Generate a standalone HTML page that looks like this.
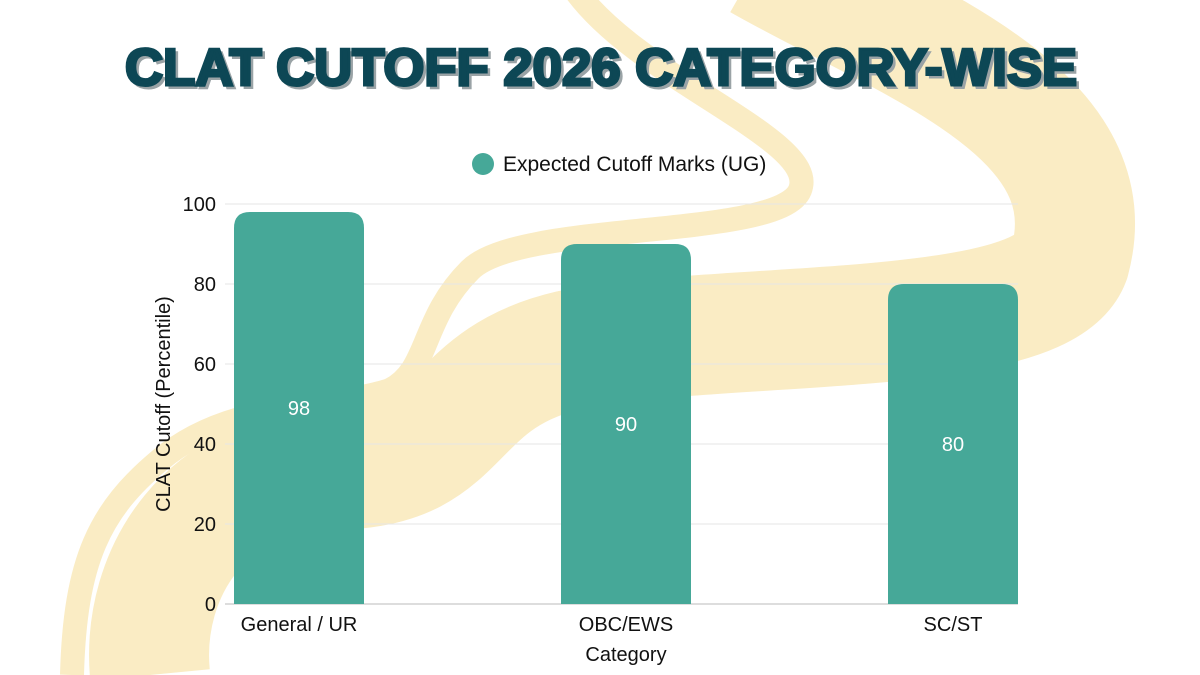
<!DOCTYPE html>
<html><head><meta charset="utf-8"><style>
html,body{margin:0;padding:0;background:#fff;overflow:hidden;width:1200px;height:675px;}
svg{display:block;font-family:"Liberation Sans",sans-serif;overflow:hidden;}
</style></head><body>
<svg width="1200" height="675" viewBox="0 0 1200 675">
<defs><clipPath id="frame"><rect x="0" y="0" width="1200" height="675"/></clipPath></defs>
<g fill="none" stroke="#faecc4" stroke-linecap="butt" clip-path="url(#frame)">
 <path d="M 760 -40 C 900 40, 1110 110, 1070 260 C 1040 340, 720 320, 570 350 C 440 380, 470 470, 330 470 C 210 470, 140 570, 150 675" stroke-width="120"/>
 <path d="M 575 -10 C 640 80, 820 140, 800 190 C 780 240, 520 220, 470 270 C 420 320, 430 370, 390 390 C 330 410, 230 400, 160 460 C 100 510, 75 560, 72 675" stroke-width="24"/>
</g>
<g>
 <text x="604" y="88" text-anchor="middle" font-size="52" font-weight="bold" fill="#9aa3a6" textLength="952" lengthAdjust="spacingAndGlyphs" stroke="#9aa3a6" stroke-width="2">CLAT CUTOFF 2026 CATEGORY-WISE</text>
 <text x="601" y="85" text-anchor="middle" font-size="52" font-weight="bold" fill="#0d4755" textLength="952" lengthAdjust="spacingAndGlyphs" stroke="#0d4755" stroke-width="3">CLAT CUTOFF 2026 CATEGORY-WISE</text>
</g>
<g>
 <circle cx="483" cy="164" r="11" fill="#46a898"/>
 <text x="503" y="171" font-size="21" fill="#111">Expected Cutoff Marks (UG)</text>
</g>
<g id="grid"></g>
<g id="yticks"></g>
<g id="bars"></g>
<g id="xticks"></g>
<text transform="translate(170,404) rotate(-90)" text-anchor="middle" font-size="20" fill="#111">CLAT Cutoff (Percentile)</text>
<text x="626" y="661" text-anchor="middle" font-size="20" fill="#111">Category</text>
</svg>
<script>
const categories = ["General / UR", "OBC/EWS", "SC/ST"];
const values = [98, 90, 80];
const yTicks = [0, 20, 40, 60, 80, 100];
const NS = "http://www.w3.org/2000/svg";
function y(v){ return 604 - v * 4; }
function xc(i){ return 299 + i * 327; }
const bw = 130;
function mk(tag, attrs, parent){ const e = document.createElementNS(NS, tag); for (const k in attrs) e.setAttribute(k, attrs[k]); parent.appendChild(e); return e; }
const grid = document.getElementById('grid'), yt = document.getElementById('yticks'), bars = document.getElementById('bars'), xt = document.getElementById('xticks');
yTicks.forEach(t => {
  const l = mk('line', {x1: 225, x2: 1018, y1: y(t), y2: y(t), stroke: t === 0 ? '#bbb' : '#e6e6e6', 'stroke-width': 1}, grid);
  
  
  const tx = mk('text', {x: 216, y: y(t) + 7, 'text-anchor': 'end', 'font-size': 20, fill: '#111'}, yt);
  tx.textContent = t;
  
  
});
categories.forEach((c, i) => {
  const x0 = xc(i) - bw / 2, top = y(values[i]), bot = y(0), r = 16;
  const p = mk('path', {d: `M${x0} ${bot} L${x0} ${top + r} Q${x0} ${top} ${x0 + r} ${top} L${x0 + bw - r} ${top} Q${x0 + bw} ${top} ${x0 + bw} ${top + r} L${x0 + bw} ${bot} Z`, fill: '#46a898'}, bars);
  
  
  const v = mk('text', {x: xc(i), y: (top + bot) / 2 + 7, 'text-anchor': 'middle', 'font-size': 20, fill: '#fff'}, bars);
  v.textContent = values[i];
  
  
  const l = mk('text', {x: xc(i), y: 631, 'text-anchor': 'middle', 'font-size': 20, fill: '#111'}, xt);
  l.textContent = c;
  
  
});
</script>
</body></html>
